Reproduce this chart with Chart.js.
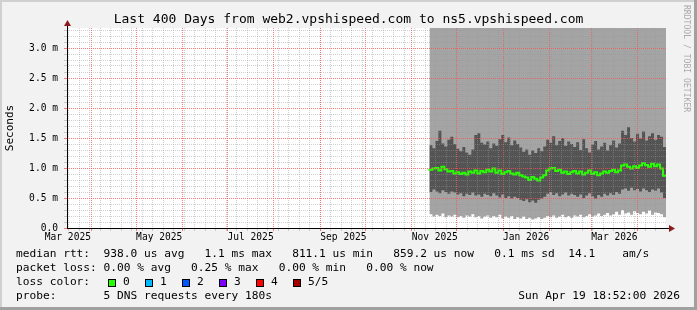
<!DOCTYPE html>
<html>
<head>
<meta charset="utf-8">
<script src="https://cdn.jsdelivr.net/npm/chart.js@4.4.1/dist/chart.umd.min.js"></script>
<style>
  html, body { margin: 0; padding: 0; background: #f2f2f2; overflow: hidden; }
  #wrap { position: relative; width: 697px; height: 310px; font-family: 'DejaVu Sans Mono', monospace; color: #000; }
  #chart { position: absolute; left: 0; top: 0; }
  .txt { position: absolute; white-space: pre; font-size: 11.2px; line-height: 14px; }
  #title { position: absolute; left: 0; top: 11px; width: 697px; text-align: center; font-size: 13px; line-height: 16px; white-space: pre; }
  #credit { position: absolute; left: 682px; top: 5px; writing-mode: vertical-rl; font-size: 8.1px; line-height: 10px; color: #aaa; white-space: pre; }
  .box { position: absolute; width: 6px; height: 6px; border: 1px solid #000; }
  .edge { position: absolute; }
</style>
</head>
<body>
<div id="wrap">
  <canvas id="chart" width="697" height="310"></canvas>
  <div id="title">Last 400 Days from web2.vpshispeed.com to ns5.vpshispeed.com</div>
  <div id="credit">RRDTOOL / TOBI OETIKER</div>
  <div class="txt" id="row1" style="left:16px;top:247px"></div>
  <div class="txt" id="row2" style="left:16px;top:261px"></div>
  <div class="txt" id="row3" style="left:16px;top:275px"></div>
  <div class="txt" id="row4" style="left:16px;top:289px"></div>
  <div class="txt" id="stamp" style="right:17px;top:289px"></div>
  <div class="edge" style="left:0;top:0;width:697px;height:2px;background:#d0d0d0"></div>
  <div class="edge" style="left:0;top:0;width:2px;height:310px;background:#d0d0d0"></div>
  <div class="edge" style="left:0;top:307px;width:697px;height:3px;background:#a0a0a0"></div>
  <div class="edge" style="left:694px;top:0;width:3px;height:310px;background:#a0a0a0"></div>
</div>
<script>
// time axis runs in days from the start of the 400 day window
const t0 = Date.UTC(2025, 2, 15, 18, 52) / 864e5;
const spanDays = 400;
const yMax = 10 / 3; // ms, top of the plot

const monthNames = ['Jan', 'Feb', 'Mar', 'Apr', 'May', 'Jun', 'Jul', 'Aug', 'Sep', 'Oct', 'Nov', 'Dec'];
const xLabels = ['Mar 2025', 'May 2025', 'Jul 2025', 'Sep 2025', 'Nov 2025', 'Jan 2026', 'Mar 2026'];

// samples every 2 days, from day 242 to day 400
const sampleDays = [];
for (let d = 242; d <= 400; d += 2) sampleDays.push(d);

// median rtt (ms)
const rttMedian = [
  0.95, 0.97, 0.99, 1.00, 0.96, 1.02, 0.98, 0.94, 0.95, 0.91,
  0.93, 0.90, 0.92, 0.89, 0.94, 0.92, 0.96, 0.91, 0.95, 0.93,
  0.97, 0.94, 0.99, 0.92, 0.96, 0.90, 0.93, 0.95, 0.91, 0.89,
  0.92, 0.88, 0.86, 0.84, 0.80, 0.85, 0.82, 0.79, 0.84, 0.88,
  0.96, 0.99, 1.00, 0.95, 0.97, 0.92, 0.94, 0.90, 0.93, 0.95,
  0.91, 0.94, 0.89, 0.92, 0.96, 0.90, 0.93, 0.88, 0.91, 0.94,
  0.92, 0.95, 0.97, 0.93, 0.96, 1.04, 1.06, 1.02, 0.99, 1.03,
  1.00, 1.04, 1.08, 1.05, 1.02, 1.07, 1.03, 1.06, 0.99, 0.87
];
// dark smoke band, upper edge (ms)
const smokeHigh = [
  1.30, 1.38, 1.33, 1.45, 1.62, 1.41, 1.36, 1.47, 1.52, 1.40,
  1.32, 1.28, 1.35, 1.26, 1.22, 1.31, 1.55, 1.58, 1.42, 1.39,
  1.44, 1.33, 1.41, 1.37, 1.48, 1.55, 1.43, 1.51, 1.38, 1.46,
  1.40, 1.34, 1.27, 1.31, 1.22, 1.29, 1.25, 1.33, 1.28, 1.36,
  1.47, 1.42, 1.53, 1.38, 1.45, 1.50, 1.37, 1.44, 1.40, 1.35,
  1.43, 1.30, 1.48, 1.33, 1.26, 1.39, 1.45, 1.31, 1.36, 1.42,
  1.29, 1.38, 1.46, 1.34, 1.41, 1.62, 1.55, 1.68, 1.50, 1.44,
  1.57, 1.49, 1.61, 1.46, 1.53, 1.58, 1.47, 1.55, 1.52, 1.35
];
// dark smoke band, lower edge (ms)
const smokeLow = [
  0.62, 0.60, 0.64, 0.61, 0.58, 0.63, 0.60, 0.57, 0.61, 0.59,
  0.56, 0.58, 0.53, 0.57, 0.55, 0.59, 0.54, 0.56, 0.52, 0.57,
  0.55, 0.53, 0.58, 0.54, 0.51, 0.56, 0.50, 0.53, 0.49, 0.52,
  0.50, 0.47, 0.45, 0.48, 0.43, 0.46, 0.42, 0.47, 0.49, 0.52,
  0.57, 0.60, 0.55, 0.58, 0.53, 0.56, 0.59, 0.54, 0.57, 0.55,
  0.52, 0.56, 0.50, 0.54, 0.58, 0.53, 0.49, 0.55, 0.52, 0.57,
  0.54, 0.58, 0.55, 0.60, 0.57, 0.64, 0.66, 0.62, 0.67, 0.63,
  0.65, 0.61, 0.66, 0.63, 0.60, 0.64, 0.62, 0.66, 0.59, 0.50
];
// minimum rtt (ms), smoke starts here
const rttMin = [
  0.21, 0.23, 0.19, 0.22, 0.20, 0.24, 0.18, 0.21, 0.19, 0.22,
  0.18, 0.20, 0.17, 0.21, 0.19, 0.23, 0.18, 0.20, 0.16, 0.19,
  0.21, 0.17, 0.20, 0.18, 0.22, 0.16, 0.19, 0.17, 0.20, 0.15,
  0.18, 0.16, 0.19, 0.15, 0.17, 0.14, 0.16, 0.18, 0.15, 0.17,
  0.20, 0.18, 0.21, 0.17, 0.19, 0.22, 0.18, 0.20, 0.17, 0.21,
  0.19, 0.22, 0.18, 0.20, 0.23, 0.19, 0.21, 0.24, 0.20, 0.22,
  0.25, 0.21, 0.23, 0.27, 0.22, 0.30, 0.24, 0.26, 0.22, 0.28,
  0.25, 0.23, 0.27, 0.24, 0.29, 0.22, 0.26, 0.25, 0.23, 0.18
];
// max rtt is off the top of the scale for every sample
const rttMax = sampleDays.map(() => yMax);

const lossLabels = ['0', '1', '2', '3', '4', '5/5'];
const lossColors = ['#26ff00', '#00b8ff', '#0059ff', '#7e00ff', '#ff0000', '#a10000'];

const legendRows = [
  'median rtt:  938.0 us avg   1.1 ms max   811.1 us min   859.2 us now   0.1 ms sd  14.1    am/s',
  'packet loss: 0.00 % avg   0.25 % max   0.00 % min   0.00 % now',
  'loss color:',
  'probe:       5 DNS requests every 180s'
];
const stampText = 'Sun Apr 19 18:52:00 2026';

// month starts carry the red grid and the labels
const monthTicks = [];
for (let y = 2025, m = 2; y < 2026 || m <= 3; ) {
  const name = monthNames[m] + ' ' + y;
  monthTicks.push({value: Date.UTC(y, m, 1) / 864e5 - t0, text: xLabels.includes(name) ? name : ''});
  m++;
  if (m > 11) { m = 0; y++; }
}
// mondays carry the grey grid
const weekTicks = [];
for (let v = Date.UTC(2025, 2, 17) / 864e5 - t0; v <= spanDays; v += 7) weekTicks.push(v);

const yTicks = [];
for (let i = 0; i <= 33; i++) yTicks.push(i / 10);
const isMajorY = (v) => Math.abs(v * 2 - Math.round(v * 2)) < 1e-6;

const font = 'DejaVu Sans Mono';
const series = (vals) => sampleDays.map((d, i) => ({x: d, y: vals[i]}));

const majorGrid = 'rgba(255,80,80,0.75)';
const minorGrid = 'rgba(150,150,150,0.45)';

const frame_plugin = {
  id: 'frame',
  beforeDraw(chart) {
    const {ctx, chartArea: a} = chart;
    ctx.save();
    ctx.fillStyle = '#ffffff';
    ctx.fillRect(a.left, a.top, a.right - a.left, a.bottom - a.top);
    ctx.restore();
  },
  afterDraw(chart) {
    const {ctx, chartArea: a} = chart;
    ctx.save();
    ctx.strokeStyle = '#000';
    ctx.lineWidth = 1;
    ctx.beginPath();
    ctx.moveTo(a.left + 0.5, a.bottom + 1);
    ctx.lineTo(a.left + 0.5, a.top - 3);
    ctx.moveTo(a.left, a.bottom + 0.5);
    ctx.lineTo(a.right + 3, a.bottom + 0.5);
    ctx.stroke();
    ctx.fillStyle = '#8b1a1a';
    ctx.beginPath();
    ctx.moveTo(a.left + 0.5, a.top - 8);
    ctx.lineTo(a.left - 3, a.top - 2);
    ctx.lineTo(a.left + 4, a.top - 2);
    ctx.closePath();
    ctx.fill();
    ctx.beginPath();
    ctx.moveTo(a.right + 9, a.bottom + 0.5);
    ctx.lineTo(a.right + 3, a.bottom - 3);
    ctx.lineTo(a.right + 3, a.bottom + 4);
    ctx.closePath();
    ctx.fill();
    ctx.restore();
  }
};

const stepLine = {pointRadius: 0, stepped: 'after', borderWidth: 0, borderColor: 'transparent'};

const data = {
  datasets: [
    {...stepLine, label: 'min', data: series(rttMin), fill: false, order: 5},
    {...stepLine, label: 'max', data: series(rttMax), fill: '-1', backgroundColor: '#a4a4a4', order: 4},
    {...stepLine, label: 'smoke low', data: series(smokeLow), fill: false, order: 3},
    {...stepLine, label: 'smoke high', data: series(smokeHigh), fill: '-1', backgroundColor: '#545454', order: 2},
    {label: 'median rtt', data: series(rttMedian), pointRadius: 0, stepped: 'after', borderWidth: 2, borderColor: '#26ff00', fill: false, order: 1}
  ]
};

const options = {
  responsive: false,
  animation: false,
  events: [],
  layout: {padding: {top: 28, right: 31, bottom: 0, left: 0}},
  plugins: {legend: {display: false}, tooltip: {enabled: false}, title: {display: false}},
  scales: {
    x: {
      type: 'linear',
      min: 0,
      max: spanDays,
      weight: 0,
      afterBuildTicks: (scale) => { scale.ticks = weekTicks.map((v) => ({value: v})); },
      afterFit: (scale) => { scale.height = 0; },
      ticks: {display: false, autoSkip: false},
      grid: {z: 1, lineWidth: 1, tickLength: 3, tickBorderDash: [], color: minorGrid, tickColor: minorGrid},
      border: {display: false, dash: [1, 1]}
    },
    xMonths: {
      type: 'linear',
      position: 'bottom',
      min: 0,
      max: spanDays,
      weight: 1,
      afterBuildTicks: (scale) => { scale.ticks = monthTicks.map((t) => ({value: t.value})); },
      afterFit: (scale) => { scale.height = 82; },
      ticks: {
        autoSkip: false,
        maxRotation: 0,
        labelOffset: 23,
        padding: 1,
        color: '#000',
        font: {family: font, size: 9.6},
        callback: (v, i) => monthTicks[i].text
      },
      grid: {
        z: 1,
        lineWidth: 1,
        tickLength: 3,
        tickBorderDash: [],
        color: (c) => c.tick.value < 0 ? 'transparent' : majorGrid,
        tickColor: (c) => c.tick.value < 0 ? 'transparent' : majorGrid
      },
      border: {display: false, dash: [1, 1]}
    },
    y: {
      min: 0,
      max: yMax,
      afterBuildTicks: (scale) => { scale.ticks = yTicks.map((v) => ({value: v})); },
      afterFit: (scale) => { scale.width = 67; },
      ticks: {
        autoSkip: false,
        padding: 6,
        color: '#000',
        font: {family: font, size: 9.6},
        callback: (v) => isMajorY(v) ? (v === 0 ? '0.0' : v.toFixed(1) + ' m') : ''
      },
      grid: {
        z: 1,
        lineWidth: 1,
        tickLength: 3,
        tickBorderDash: [],
        color: (c) => isMajorY(yTicks[c.index]) ? majorGrid : minorGrid,
        tickColor: (c) => isMajorY(yTicks[c.index]) ? majorGrid : minorGrid
      },
      border: {display: false, dash: [1, 1]},
      title: {display: true, text: 'Seconds', color: '#000', font: {family: font, size: 11}, padding: {top: 4, bottom: 0}}
    }
  }
};

const chart = new Chart(document.getElementById('chart'), {
  type: 'line',
  data: data,
  options: options,
  plugins: [frame_plugin]
});

// legend text below the plot
document.getElementById('row1').textContent = legendRows[0];
document.getElementById('row2').textContent = legendRows[1];
document.getElementById('row3').textContent = legendRows[2];
document.getElementById('row4').textContent = legendRows[3];
document.getElementById('stamp').textContent = stampText;
const wrap = document.getElementById('wrap');
lossLabels.forEach((lab, i) => {
  const box = document.createElement('div');
  box.className = 'box';
  box.style.left = (108 + i * 37) + 'px';
  box.style.top = '279px';
  box.style.background = lossColors[i];
  wrap.appendChild(box);
  const t = document.createElement('div');
  t.className = 'txt';
  t.style.left = (108 + i * 37 + 15) + 'px';
  t.style.top = '275px';
  t.textContent = lab;
  wrap.appendChild(t);
});
</script>
</body>
</html>
